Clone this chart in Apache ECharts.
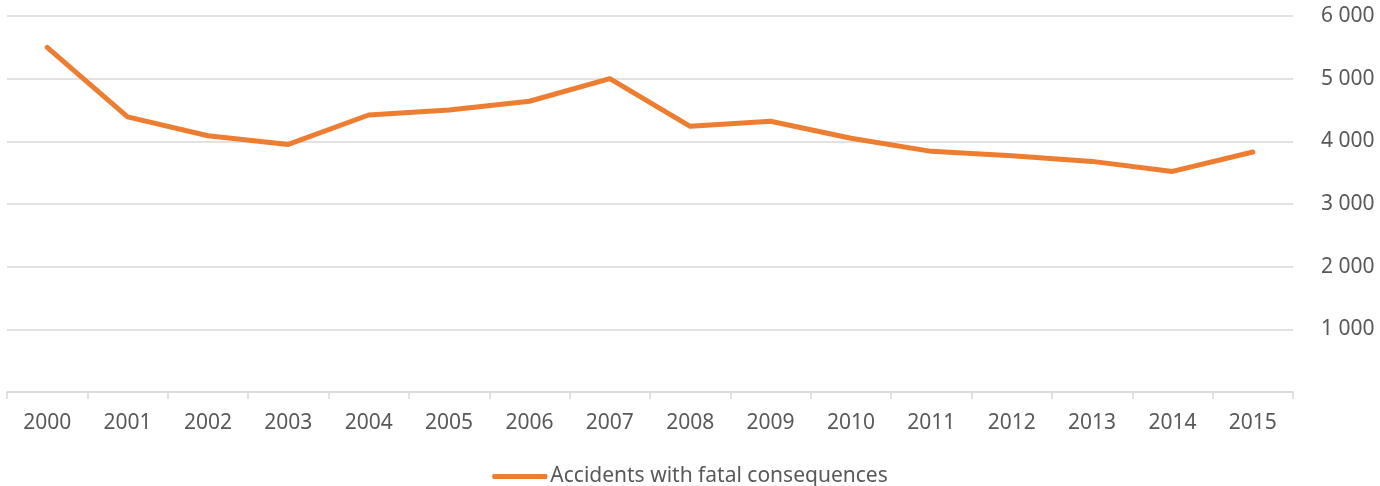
<!DOCTYPE html>
<html>
<head>
<meta charset="utf-8">
<script src="https://cdn.jsdelivr.net/npm/echarts@6/dist/echarts.min.js"></script>
<style>
  html, body { margin: 0; padding: 0; background: #fff; }
  #chart { width: 1380px; height: 486px; }
</style>
</head>
<body>
<div id="chart"></div>
<script>
// years on the x axis
const years = ['2000', '2001', '2002', '2003', '2004', '2005', '2006', '2007',
               '2008', '2009', '2010', '2011', '2012', '2013', '2014', '2015'];
// accidents with fatal consequences
const fatalAccidents = [5500, 4390, 4090, 3950, 4420, 4500, 4640, 5000,
                        4240, 4320, 4050, 3840, 3770, 3680, 3520, 3830];
const seriesName = 'Accidents with fatal consequences';

const textColor = '#595959';
const gridColor = '#d9d9d9';
const lineColor = '#ED7D31';
const font = 'Noto Sans';

const chart = echarts.init(document.getElementById('chart'));

const options = {
    animation: false,
    grid: {
        left: 7,
        right: 87,
        top: 16,
        bottom: 94
    },
    legend: {
        data: [seriesName],
        left: 'center',
        top: 461,
        icon: 'roundRect',
        itemWidth: 55,
        itemHeight: 5,
        itemGap: 10,
        textStyle: {
            color: textColor,
            fontFamily: font,
            fontSize: 21,
            padding: [0, 0, 0, -2]
        }
    },
    xAxis: {
        type: 'category',
        data: years,
        boundaryGap: true,
        axisLine: {lineStyle: {color: gridColor, width: 1.5}},
        axisTick: {show: true, length: 7, lineStyle: {color: gridColor, width: 1.5}},
        axisLabel: {
            color: textColor,
            fontFamily: font,
            fontSize: 21,
            margin: 21
        }
    },
    yAxis: {
        type: 'value',
        position: 'right',
        min: 0,
        max: 6000,
        interval: 1000,
        axisLine: {show: false},
        axisTick: {show: false},
        splitLine: {lineStyle: {color: gridColor, width: 1.5}},
        axisLabel: {
            color: textColor,
            fontFamily: font,
            fontSize: 21,
            margin: 28,
            formatter: function (v) {
                if (v === 0) return '';
                return String(v).replace(/\B(?=(\d{3})+(?!\d))/g, ' ');
            }
        }
    },
    series: [
        {
            name: seriesName,
            type: 'line',
            data: fatalAccidents,
            symbol: 'none',
            itemStyle: {color: lineColor},
            lineStyle: {
                color: lineColor,
                width: 5,
                cap: 'round',
                join: 'round'
            }
        }
    ]
};

chart.setOption(options);
</script>
</body>
</html>
